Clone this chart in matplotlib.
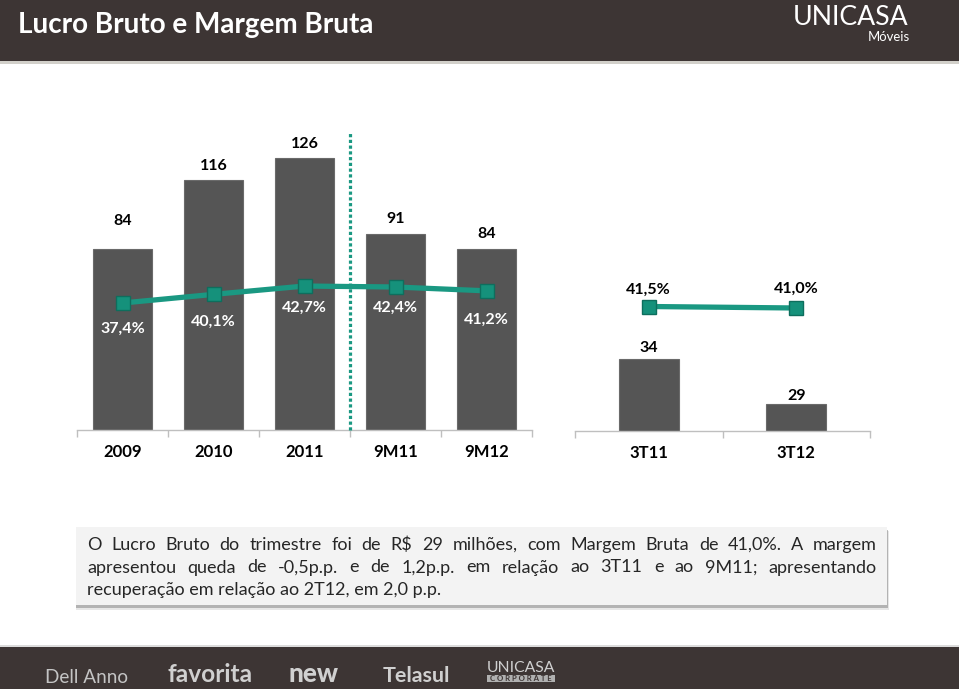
import matplotlib
matplotlib.use("Agg")
import matplotlib.pyplot as plt
from matplotlib.patches import Rectangle

# ---------------- data ----------------
title = "Lucro Bruto e Margem Bruta"
cats_left = ["2009", "2010", "2011", "9M11", "9M12"]
lucro_left = [84, 116, 126, 91, 84]
margem_left = [37.4, 40.1, 42.7, 42.4, 41.2]
cats_right = ["3T11", "3T12"]
lucro_right = [34, 29]
margem_right = [41.5, 41.0]
para_lines = [
    "O Lucro Bruto do trimestre foi de R$ 29 milhões, com Margem Bruta de 41,0%. A margem",
    "apresentou queda de -0,5p.p. e de 1,2p.p. em relação ao 3T11 e ao 9M11; apresentando",
    "recuperação em relação ao 2T12, em 2,0 p.p.",
]
footer_brands = ["Dell Anno", "favorita", "new", "Telasul", "UNICASA"]

# ---------------- style ----------------
W, H = 959, 689
DARK = "#3d3534"
TEAL = "#1a9882"
BAR = "#555555"
plt.rcParams["font.family"] = ["Lato", "DejaVu Sans"]

fig = plt.figure(figsize=(W / 100, H / 100), dpi=100)
fig.patch.set_facecolor("white")
renderer = fig.canvas.get_renderer()


def fx(x):
    return x / W


def fy(y):
    return 1 - y / H


def rect(x0, y0, x1, y1, color, alpha=1.0, z=0):
    fig.add_artist(Rectangle((fx(x0), fy(y1)), (x1 - x0) / W, (y1 - y0) / H,
                             transform=fig.transFigure, facecolor=color,
                             edgecolor="none", alpha=alpha, zorder=z))


def fit_text(x, y, s, width, ha="left", base=12, **kw):
    t = fig.text(fx(x), fy(y), s, fontsize=base, ha=ha, va="baseline",
                 parse_math=False, **kw)
    w = t.get_window_extent(renderer).width
    t.set_fontsize(base * width / w)
    return t


# ---------------- header ----------------
rect(0, 0, W, 61, DARK)
rect(0, 61, W, 64, "#d2d0ca")
fit_text(18, 33, title, 354, color="white", fontweight="bold")
fit_text(908, 25, "UNICASA", 115, ha="right", color="white")
fit_text(910, 41, "Móveis", 42, ha="right", color="white")

# ---------------- left chart ----------------
axL = fig.add_axes([fx(77), fy(430), 455 / W, 300 / H])
pxL = 2.159  # px per unit
axL.set_xlim(-0.5, len(cats_left) - 0.5)
axL.set_ylim(0, 300 / pxL)
xl = list(range(len(cats_left)))
axL.bar(xl, lucro_left, width=0.65, color=BAR, edgecolor="#6a6a6a",
        linewidth=0.8, zorder=2)
offL = [28, 14, 14, 15, 15]
for x, v, o in zip(xl, lucro_left, offL):
    axL.annotate(str(v), (x, v), xytext=(0, o * 0.72), textcoords="offset points",
                 ha="center", va="center", fontsize=11.5, fontweight="bold",
                 color="black")
axL.plot([2.5, 2.5], [0, (430 - 132) / pxL], ls=(0, (1, 0.8)), lw=2.3,
         color=TEAL, clip_on=False, zorder=3)

axL2 = axL.twinx()
top_v = 37.4 + 173 / 3.2
bot_v = 37.4 - 127 / 3.2
axL2.set_ylim(bot_v, top_v)
axL2.plot(xl, margem_left, color=TEAL, lw=3.8, marker="s", ms=10.5,
          mfc="#15917b", mec="#0e6e5d", mew=1.0, zorder=5)
offP = [26, 27, 22, 21, 29]
for x, v, o in zip(xl, margem_left, offP):
    axL2.annotate(f"{v:.1f}%".replace(".", ","), (x, v), xytext=(0, -o * 0.72),
                  textcoords="offset points", ha="center", va="center",
                  fontsize=11.5, fontweight="bold", color="white")

# ---------------- right chart ----------------
axR = fig.add_axes([fx(575), fy(431), 295 / W, 161 / H])
pxR = 9.0
axR.set_xlim(-0.5, len(cats_right) - 0.5)
axR.set_ylim(26, 26 + 161 / pxR)
xr = list(range(len(cats_right)))
axR.bar(xr, lucro_right, width=0.41, color=BAR, edgecolor="#6a6a6a",
        linewidth=0.8, zorder=2)
offR = [11, 8]
for x, v, o in zip(xr, lucro_right, offR):
    axR.annotate(str(v), (x, v), xytext=(0, o * 0.72), textcoords="offset points",
                 ha="center", va="center", fontsize=11.5, fontweight="bold",
                 color="black")
axR2 = axR.twinx()
axR2.set_ylim(0, 161 / 3.0)
axR2.plot(xr, margem_right, color=TEAL, lw=3.8, marker="s", ms=10.5,
          mfc="#15917b", mec="#0e6e5d", mew=1.0, zorder=5)
offRP = [16.5, 19.5]
for x, v, o in zip(xr, margem_right, offRP):
    axR2.annotate(f"{v:.1f}%".replace(".", ","), (x, v), xytext=(0, o * 0.72),
                  textcoords="offset points", ha="center", va="center",
                  fontsize=11.5, fontweight="bold", color="black")

# axis styling
for ax, cats in ((axL, cats_left), (axR, cats_right)):
    ax.patch.set_visible(False)
    for s in ("top", "left", "right"):
        ax.spines[s].set_visible(False)
    ax.spines["bottom"].set_color("#bfbfbf")
    ax.spines["bottom"].set_linewidth(1.0)
    ax.set_yticks([])
    ax.set_xticks(range(len(cats)))
    ax.set_xticklabels(cats, fontsize=12, fontweight="bold", color="black")
    ax.tick_params(axis="x", which="major", length=0, pad=10)
    ax.set_xticks([i - 0.5 for i in range(len(cats) + 1)], minor=True)
    ax.tick_params(axis="x", which="minor", length=5, color="#bfbfbf", width=1)
for ax in (axL2, axR2):
    ax.patch.set_visible(False)
    for s in ax.spines.values():
        s.set_visible(False)
    ax.set_yticks([])

# ---------------- text box ----------------
rect(76, 531, 889, 610, "#a0a0a0", alpha=0.25, z=1)
rect(76, 530, 888, 608, "#808080", alpha=0.5, z=1)
rect(76, 527, 887, 605, "#f3f3f3", z=2)

PCOL = "#262626"
probe = fig.text(0, 0, para_lines[2], fontsize=12, parse_math=False)
pfs = 12 * 354 / probe.get_window_extent(renderer).width
probe.remove()
x0, x1 = 87, 877
baselines = [550, 572.5, 595]
for i, line in enumerate(para_lines):
    if i == len(para_lines) - 1:
        fig.text(fx(x0), fy(baselines[i]), line, fontsize=pfs, color=PCOL,
                 va="baseline", parse_math=False, zorder=3)
        continue
    words = line.split(" ")
    ts = [fig.text(0, fy(baselines[i]), w, fontsize=pfs, color=PCOL,
                   va="baseline", parse_math=False, zorder=3) for w in words]
    ws = [t.get_window_extent(renderer).width for t in ts]
    gap = (x1 - x0 - sum(ws)) / (len(words) - 1)
    cx = x0
    for t, w in zip(ts, ws):
        t.set_x(fx(cx))
        cx += w + gap

# ---------------- footer ----------------
rect(0, 645, W, 647, "#dcdcdc")
rect(0, 647, W, H, DARK)
fit_text(45, 683, footer_brands[0], 83, color="#c4c4c4")
fit_text(167, 682, footer_brands[1], 84, color="#d0d0d0", fontweight="bold")
fit_text(288, 682, footer_brands[2], 50, color="#d0d0d0", fontweight="black")
fit_text(383, 682, footer_brands[3], 67, color="#d0d0d0", fontweight="bold")
fit_text(487, 672, footer_brands[4], 68, color="#d0d0d0")
rect(487, 675, 555, 682, "#b0b0b0")
fit_text(490, 681, "C O R P O R A T E", 62, color=DARK, fontweight="bold")

fig.savefig("out.png", dpi=100, facecolor="white")
